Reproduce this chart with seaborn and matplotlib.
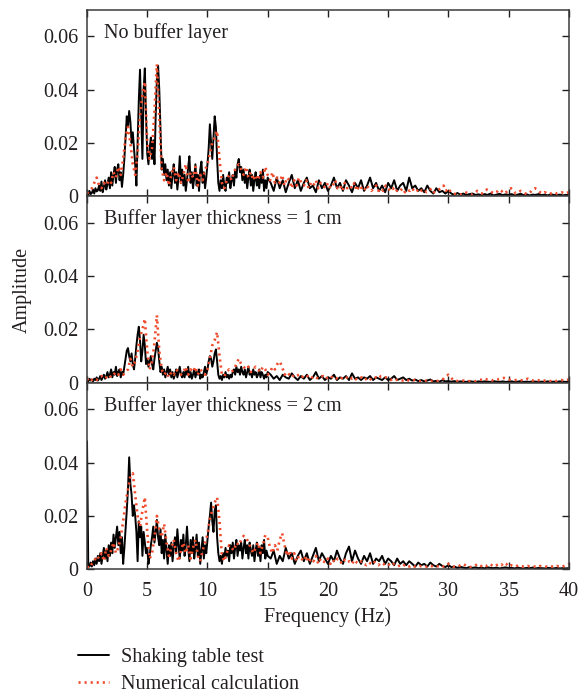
#!/usr/bin/env python3
import numpy as np
import matplotlib
matplotlib.use("Agg")
import matplotlib.pyplot as plt
import seaborn as sns
import pandas as pd

OUTPUT = "out.png"

# Frequency grids (Hz): test data is denser below 15 Hz
FREQ_TEST = np.round(np.concatenate([np.arange(0, 15.01, 0.1),
                                     np.arange(15.25, 40.01, 0.25)]), 2)
FREQ_CALC = np.round(np.arange(0, 40.01, 0.2), 2)

PANEL_TITLES = [
    "No buffer layer",
    "Buffer layer thickness = 1\u2009cm",
    "Buffer layer thickness = 2\u2009cm",
]

# Amplitudes in units of 1e-3
TEST_NO_BUFFER = [
    1.5, 0.5, 2.0, 0.8, 1.2, 2.5, 1.0, 3.0, 1.8, 2.2,
    4.0, 2.0, 5.5, 1.5, 3.5, 6.0, 2.5, 4.5, 7.0, 3.0,
    9.0, 4.0, 8.0, 11.0, 5.0, 10.0, 12.0, 6.0, 9.0, 3.5,
    8.0, 14.0, 22.0, 30.0, 26.0, 32.0, 28.0, 20.0, 24.0, 18.0,
    12.0, 4.0, 20.0, 36.0, 47.5, 30.0, 14.0, 40.0, 48.0, 30.0,
    16.0, 12.0, 18.0, 22.0, 14.0, 21.0, 12.0, 30.0, 44.0, 49.0,
    40.0, 25.0, 10.0, 14.0, 8.0, 12.0, 6.0, 10.0, 4.0, 9.0,
    3.0, 8.0, 12.0, 5.0, 9.0, 2.5, 7.0, 15.0, 6.0, 10.0,
    4.0, 8.0, 2.0, 6.0, 11.0, 15.0, 5.0, 9.0, 3.0, 7.0,
    12.0, 4.0, 8.0, 2.0, 10.0, 13.0, 5.0, 9.0, 3.0, 7.0,
    12.0, 18.0, 27.0, 20.0, 14.0, 22.0, 30.0, 26.0, 14.0, 5.0,
    2.0, 6.0, 3.0, 8.0, 4.0, 2.0, 7.0, 5.0, 9.0, 3.0,
    6.0, 8.0, 4.0, 10.0, 7.0, 12.0, 14.0, 9.0, 11.0, 6.0,
    10.0, 5.0, 8.0, 3.0, 7.0, 10.0, 4.0, 8.0, 2.0, 6.0,
    9.0, 4.0, 7.0, 3.0, 8.0, 5.0, 10.0, 2.0, 6.0, 3.0, 7.0,
    5, 2, 7, 3, 6, 1.5, 5, 8, 3, 6,
    2, 5, 7, 3, 4, 1.5, 6, 3, 5, 2,
    4, 7, 3, 5, 2, 6, 4, 1.5, 5, 3,
    6, 2, 4, 7, 3, 5, 2, 4, 1.5, 5,
    3, 6, 2, 4, 5, 2, 7, 3, 4, 2,
    3, 1.5, 4, 2, 1, 3, 1.5, 2, 1, 2,
    1, 0.5, 1.2, 0.6, 1, 0.4, 0.8, 1, 0.5, 0.7,
    0.4, 0.8, 0.5, 1, 0.3, 0.6, 0.9, 0.4, 0.7, 0.5,
    0.8, 0.3, 0.6, 0.9, 0.4, 0.7, 0.3, 0.6, 0.5, 0.8,
    0.4, 0.6, 0.3, 0.7, 0.5, 0.4, 0.6, 0.3, 0.5, 0.4,
]
CALC_NO_BUFFER = [
    1, 2, 3, 5, 7, 4, 3, 5, 4, 6,
    5, 9, 7, 11, 8, 14, 22, 26, 20, 12,
    8, 16, 30, 38, 43, 20, 14, 18, 32, 49.5,
    30, 10, 6, 9, 4, 8, 11, 6, 9, 5,
    8, 12, 5, 9, 7, 11, 4, 8, 6, 10,
    12, 16, 20, 22, 24.5, 14, 5, 3, 6, 8,
    6, 9, 11, 12, 10, 8, 11, 7, 9, 6,
    8, 6, 9, 7, 11, 8, 6, 9, 5, 7,
    5, 8, 4, 7, 6, 3, 6, 4, 7, 5,
    4, 6, 3, 5, 4, 6, 3, 5, 4, 3,
    5, 3, 4, 6, 3, 4, 2, 5, 3, 4,
    3, 5, 2, 4, 3, 2, 4, 3, 2, 3,
    4, 2, 3, 2, 4, 3, 2, 3, 1.5, 2.5,
    2, 3, 1.5, 2.5, 2, 3, 1.5, 2, 3, 2,
    2.5, 1.5, 2, 3, 1.5, 2, 2.5, 3, 4, 2,
    3, 1.5, 1, 0.8, 0.5, 0.6, 1, 1.5, 1.2, 0.8,
    0.6, 1.2, 2, 1.5, 1, 2, 2.5, 2, 1.5, 1,
    1.5, 2.5, 2, 1, 1.5, 2.5, 3, 2, 1, 1.5,
    2, 1.5, 1, 0.8, 1.5, 2.5, 3, 2.5, 1.5, 1,
    1.5, 1, 0.8, 1.2, 1.5, 1, 1.2, 1.5, 1, 1.2,
    1.5,
]

TEST_1CM = [
    1, 0.5, 1.5, 0.8, 1.2, 0.5, 1.5, 1, 2, 0.8,
    1.5, 2.5, 1, 2, 3, 1.5, 2.5, 4, 2, 3,
    5, 2, 4, 3, 6, 2.5, 4, 5, 2, 4,
    3, 6, 9, 12, 13, 10, 8, 11, 7, 5,
    9, 14, 18, 21, 16, 8, 12, 18, 14, 7,
    9, 6, 8, 10, 7, 5, 9, 12, 15, 13,
    8, 4, 6, 3, 5, 2, 4, 6, 3, 5,
    2, 4, 1.5, 3, 5, 2, 4, 6, 3, 2,
    4, 2, 5, 3, 6, 2, 4, 1.5, 3, 5,
    2, 4, 3, 5, 1.5, 3, 2, 4, 6, 3,
    5, 8, 10, 9, 6, 8, 11, 12.5, 8, 3,
    1.5, 2.5, 1, 3, 2, 4, 2, 3, 1.5, 3,
    2, 4, 5, 3, 6, 4, 5, 3, 6, 4,
    3, 5, 2, 4, 6, 3, 4, 2, 5, 3,
    4, 2, 3, 5, 2, 4, 3, 1.5, 3, 2, 4,
    3, 1.5, 2.5, 1, 3, 2, 1.5, 3.5, 2, 1,
    2.5, 1.5, 3, 1, 2, 4, 1.5, 2.5, 1, 2,
    1.5, 3, 1, 2, 1.5, 2.5, 1, 3.5, 1.5, 2,
    1, 2, 1.5, 2.5, 1, 2, 1.5, 1, 2, 1,
    1.5, 2.5, 1, 1.5, 2, 1, 1.5, 0.8, 1.2, 0.6,
    1, 0.5, 0.8, 1.2, 0.5, 0.7, 0.4, 0.9, 0.5, 0.6,
    0.4, 0.6, 0.3, 0.5, 0.4, 0.3, 0.6, 0.4, 0.3, 0.5,
    0.3, 0.5, 0.4, 0.3, 0.6, 0.4, 0.3, 0.5, 0.3, 0.4,
    0.5, 0.3, 0.4, 0.6, 0.3, 0.4, 0.3, 0.5, 0.4, 0.3,
    0.4, 0.3, 0.5, 0.3, 0.4, 0.3, 0.5, 0.4, 0.3, 0.4,
]
CALC_1CM = [
    1, 2, 1, 1.5, 1, 2, 2.5, 1.5, 2, 3,
    2, 3, 4, 3, 5, 3, 4, 5, 9, 6,
    8, 12, 17, 20, 24, 12, 5, 8, 15, 25.3,
    12, 5, 3, 4, 2, 4, 3, 5, 4, 3,
    4, 6, 3, 5, 4, 6, 3, 5, 4, 3,
    5, 9, 14, 16, 19, 10, 3, 2.5, 4, 5,
    4, 5, 7, 9, 7, 6, 5, 6, 4, 5,
    6, 5, 4, 6, 5, 3, 4, 6, 5, 7,
    8, 6, 3, 4, 3, 2, 3, 2.5, 3, 2,
    2.5, 3, 2, 1.5, 2.5, 2, 1.5, 2, 2.5, 1.5,
    2, 1.5, 2.5, 2, 1.5, 1, 2, 1.5, 2, 2.5,
    1.5, 2, 1, 1.5, 2, 1, 1.5, 2, 1, 1.5,
    2, 1.5, 2.5, 2.5, 2, 1.5, 1, 1.5, 1, 1.2,
    1, 0.8, 1.2, 1, 0.6, 0.8, 1, 0.7, 0.5, 0.8,
    0.6, 0.8, 0.5, 0.7, 0.6, 0.5, 0.8, 1, 1.5, 2.5,
    3, 2, 1, 0.8, 0.6, 0.5, 0.8, 0.6, 0.5, 0.6,
    0.7, 0.5, 0.8, 1.2, 1, 1.5, 1.2, 1, 0.8, 1.2,
    1.5, 1.2, 1.5, 1.8, 1.5, 1.2, 1, 0.8, 1, 1.2,
    1, 0.8, 1.2, 1.5, 1, 0.8, 1.2, 1, 0.8, 0.6,
    0.8, 1, 0.7, 0.5, 0.8, 0.6, 0.8, 1, 0.7, 1,
    1.2,
]

TEST_2CM = [
    48, 2, 1, 2.5, 1, 3, 1.5, 4, 2, 5,
    3, 6, 2, 5, 8, 4, 7, 3, 9, 5,
    10, 6, 13, 8, 12, 16, 9, 14, 6, 12,
    2, 8, 15, 22, 30, 42, 32, 28, 20, 24,
    20, 14, 3, 18, 12, 16, 5, 14, 10, 6,
    8, 2, 5, 9, 12, 16, 10, 14, 18.5, 12,
    9, 15, 6, 11, 4, 13, 7, 2, 9, 5,
    10, 3, 8, 12, 6, 15, 9, 4, 11, 7,
    13, 5, 9, 16, 8, 3, 11, 6, 12, 4,
    8, 13, 5, 10, 2, 7, 12, 4, 9, 6,
    11, 16, 20, 25, 18, 14, 22, 24, 12, 6,
    3, 5, 2, 6, 4, 8, 5, 7, 3, 9,
    6, 10, 4, 8, 11, 5, 9, 7, 10, 4,
    8, 11, 6, 9, 4, 10, 7, 5, 9, 3,
    7, 10, 5, 8, 3, 9, 6, 11, 4, 7, 5,
    4, 7, 2, 5, 3, 8, 4, 6, 2, 5,
    7, 3, 6, 2, 5, 8, 3, 6, 4, 2,
    5, 3, 7, 4, 2, 6, 8.5, 3, 7, 4,
    2, 5, 3, 6, 2, 4, 3, 5, 2, 4,
    3, 1.5, 4, 2, 3, 1.5, 3, 2, 1, 2.5,
    1.5, 2, 1, 2.5, 1.5, 1, 2, 1.2, 0.8, 1.5,
    0.8, 1, 0.5, 0.9, 0.6, 0.4, 0.8, 0.5, 0.7, 0.4,
    0.6, 0.3, 0.7, 0.5, 0.4, 0.6, 0.3, 0.5, 0.7, 0.4,
    0.5, 0.3, 0.6, 0.4, 0.3, 0.5, 0.4, 0.6, 0.3, 0.5,
    0.4, 0.3, 0.5, 0.4, 0.3, 0.5, 0.3, 0.4, 0.3, 0.4,
]
CALC_2CM = [
    1, 0.5, 2, 3, 5, 4, 6, 3, 8, 5,
    7, 10, 6, 8, 12, 18, 25, 30, 35, 36,
    28, 20, 16, 22, 27, 14, 4, 6, 12, 20,
    15, 12, 17, 10, 5, 8, 11, 6, 3, 7,
    10, 6, 9, 4, 8, 11, 5, 3, 7, 10,
    13, 19, 22, 25, 27, 18, 5, 3, 6, 9,
    8, 7, 10, 9, 11, 12.5, 12, 10, 8, 6,
    8, 10, 6, 9, 12.8, 12, 8, 6, 9, 7,
    11, 13.5, 9, 5, 7, 4, 6, 3, 5, 4,
    3, 5, 2.5, 4, 3, 5, 2, 4, 3, 2.5,
    4, 2, 3.5, 2.5, 4, 3, 2, 3.5, 2.5, 3,
    2, 3.5, 2.5, 2, 3, 2, 1.5, 2.5, 2, 3,
    2, 1.5, 2.5, 2, 1.5, 2, 1.2, 2, 1.5, 1,
    1.5, 1, 1.8, 1.2, 1, 1.5, 1, 0.8, 1.2, 1,
    0.8, 1, 1.5, 1.2, 0.8, 1, 1.2, 1.5, 1, 1.2,
    2, 1.5, 1, 0.8, 1, 1.5, 2, 1.5, 1, 0.8,
    1, 1.2, 2, 1.5, 1, 1.5, 1.2, 2, 1.5, 1,
    1.5, 2, 1.5, 2.5, 2, 1, 1.5, 1.2, 1, 1.5,
    1.2, 1, 0.8, 1.2, 1, 0.8, 1, 0.8, 1.2, 1,
    0.8, 1, 0.7, 1, 0.8, 1.2, 1, 0.8, 1.2, 1.5,
    2,
]

TEST_SERIES = [TEST_NO_BUFFER, TEST_1CM, TEST_2CM]
CALC_SERIES = [CALC_NO_BUFFER, CALC_1CM, CALC_2CM]

TEXT_COLOR = "#231f20"
RED = "#ef4b2c"
FONT_SIZE = 14.5


def panel_frame(test, calc):
    """Long-form frame of one panel; amplitudes converted from 1e-3 units."""
    t = pd.DataFrame({"freq": FREQ_TEST, "amp": np.array(test) / 1000.0,
                      "source": "Shaking table test"})
    c = pd.DataFrame({"freq": FREQ_CALC, "amp": np.array(calc) / 1000.0,
                      "source": "Numerical calculation"})
    return t, c


def main():
    sns.set_theme(style="ticks")
    plt.rcParams["font.family"] = ["Liberation Serif", "DejaVu Serif"]
    plt.rcParams["font.size"] = FONT_SIZE
    plt.rcParams["text.color"] = TEXT_COLOR
    plt.rcParams["axes.labelcolor"] = TEXT_COLOR
    plt.rcParams["xtick.color"] = TEXT_COLOR
    plt.rcParams["ytick.color"] = TEXT_COLOR
    plt.rcParams["axes.edgecolor"] = "#3a3a3a"

    fig, axes = plt.subplots(3, 1, figsize=(5.84, 6.95), dpi=100, sharex=True)
    fig.subplots_adjust(left=0.149, right=0.974, top=0.986, bottom=0.181,
                        hspace=0)

    for ax, title, test, calc in zip(axes, PANEL_TITLES, TEST_SERIES,
                                     CALC_SERIES):
        t, c = panel_frame(test, calc)
        sns.lineplot(data=t, x="freq", y="amp", color="black", lw=1.4,
                     sort=False, ax=ax, label="Shaking table test",
                     legend=False)
        sns.lineplot(data=c, x="freq", y="amp", color=RED, lw=1.9,
                     linestyle=(0, (0.8, 1.5)), sort=False, ax=ax,
                     label="Numerical calculation", legend=False)

        ax.set_xlim(0, 40)
        ax.set_ylim(0, 0.07)
        ax.set_yticks([0, 0.02, 0.04, 0.06])
        ax.set_yticklabels(["0", "0.02", "0.04", "0.06"])
        ax.set_xticks(range(0, 41, 5))
        ax.tick_params(direction="in", top=True, right=True, length=5,
                       width=1, labelsize=FONT_SIZE, pad=6)
        ax.tick_params(axis="x", pad=9)
        for sp in ax.spines.values():
            sp.set_linewidth(1.1)
        ax.set_xlabel("")
        ax.set_ylabel("")
        ax.text(0.035, 0.875, title, transform=ax.transAxes,
                fontsize=FONT_SIZE, ha="left", va="center")

    axes[-1].set_xlabel("Frequency (Hz)", fontsize=FONT_SIZE, labelpad=5)
    fig.text(0.038, 0.583, "Amplitude", rotation=90, ha="center",
             va="center", fontsize=FONT_SIZE)

    handles, labels = axes[0].get_legend_handles_labels()
    fig.legend(handles, labels, loc="upper left",
               bbox_to_anchor=(0.12, 0.079), frameon=False,
               fontsize=FONT_SIZE, handlelength=1.55, handletextpad=0.6,
               labelspacing=0.38, borderaxespad=0)

    fig.savefig(OUTPUT, dpi=100)
    plt.close()


if __name__ == "__main__":
    main()
